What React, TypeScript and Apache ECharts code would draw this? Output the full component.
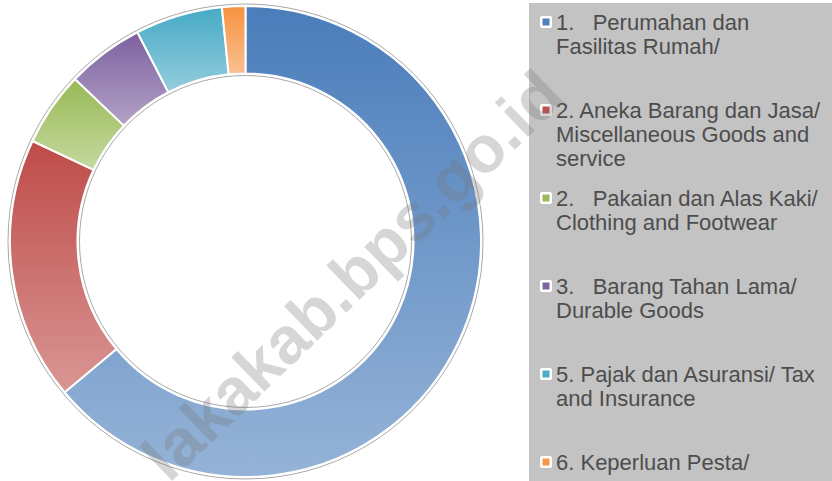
import React, { useEffect, useRef } from "react";
import * as echarts from "echarts";

// ---- data ----
const categories = [
  "1.   Perumahan dan\nFasilitas Rumah/",
  "2. Aneka Barang dan Jasa/\nMiscellaneous Goods and\nservice",
  "2.   Pakaian dan Alas Kaki/\nClothing and Footwear",
  "3.   Barang Tahan Lama/\nDurable Goods",
  "5. Pajak dan Asuransi/ Tax\nand Insurance",
  "6. Keperluan Pesta/",
];
const values = [64.0, 18.1, 5.1, 5.3, 6.0, 1.6];
const topColors = ["#4a7dbb", "#be4b48", "#98b954", "#7d60a0", "#46aac5", "#f69240"];
const bottomColors = ["#95b3d7", "#d99694", "#c5d9a0", "#b3a2c7", "#93cddd", "#fac090"];
const markerColors = ["#4f81bd", "#c0504d", "#9bbb59", "#8064a2", "#4bacc6", "#f79646"];
const watermarkText = "lakakab.bps.go.id";

const FONT = "'Liberation Sans', Arial, sans-serif";

export default function App() {
  const ref = useRef<HTMLDivElement>(null);
  useEffect(() => {
    document.body.style.margin = "0";
    const chart = echarts.init(ref.current!, null, { renderer: "svg" });
    const cx = 245.5;
    const cy = 241.5;
    const legendX = 529;
    const firstY = 22;
    const step = 88;
    const lh = 24;

    const graphics: any[] = [
      {
        type: "rect",
        shape: { x: legendX, y: 3, width: 832 - legendX, height: 481 - 3 },
        style: { fill: "#c3c3c3" },
        z: 0,
      },
      {
        type: "circle",
        shape: { cx, cy, r: 237.5 },
        style: { fill: "none", stroke: "#a8a8a8", lineWidth: 1 },
        z: 1,
      },
      {
        type: "circle",
        shape: { cx, cy, r: 166 },
        style: { fill: "none", stroke: "#a8a8a8", lineWidth: 1 },
        z: 1,
      },
    ];
    categories.forEach((name, i) => {
      const y = firstY + i * step;
      graphics.push({
        type: "rect",
        shape: { x: 540, y: y - 6, width: 12, height: 12, r: 2 },
        style: { fill: "#ffffff" },
        z: 2,
      });
      graphics.push({
        type: "rect",
        shape: { x: 542.5, y: y - 3.5, width: 7, height: 7 },
        style: { fill: markerColors[i] },
        z: 3,
      });
      graphics.push({
        type: "text",
        x: 556,
        y: y - lh / 2,
        style: {
          text: name,
          fill: "#4d4d4d",
          fontSize: 22,
          fontFamily: FONT,
          lineHeight: lh,
          verticalAlign: "top",
          align: "left",
        },
        z: 3,
      });
    });
    graphics.push({
      type: "text",
      x: 352,
      y: 275,
      rotation: (44 * Math.PI) / 180,
      style: {
        text: watermarkText,
        fill: "rgba(120,120,120,0.30)",
        fontSize: 66,
        fontWeight: "bold",
        fontFamily: FONT,
        align: "center",
        verticalAlign: "middle",
      },
      z: 100,
    });

    chart.setOption({
      animation: false,
      backgroundColor: "#ffffff",
      graphic: { elements: graphics },
      series: [
        {
          type: "pie",
          center: [cx, cy],
          radius: [168, 235.5],
          startAngle: 90,
          clockwise: true,
          avoidLabelOverlap: false,
          label: { show: false },
          labelLine: { show: false },
          emphasis: { disabled: true },
          silent: true,
          z: 5,
          data: categories.map((name, i) => ({
            name,
            value: values[i],
            itemStyle: {
              color: new echarts.graphic.LinearGradient(0, 0, 0, 1, [
                { offset: 0, color: topColors[i] },
                { offset: 1, color: bottomColors[i] },
              ]),
              borderColor: "#ffffff",
              borderWidth: 2,
            },
          })),
        },
      ],
    });
    return () => chart.dispose();
  }, []);
  return <div ref={ref} style={{ width: 832, height: 481 }} />;
}
